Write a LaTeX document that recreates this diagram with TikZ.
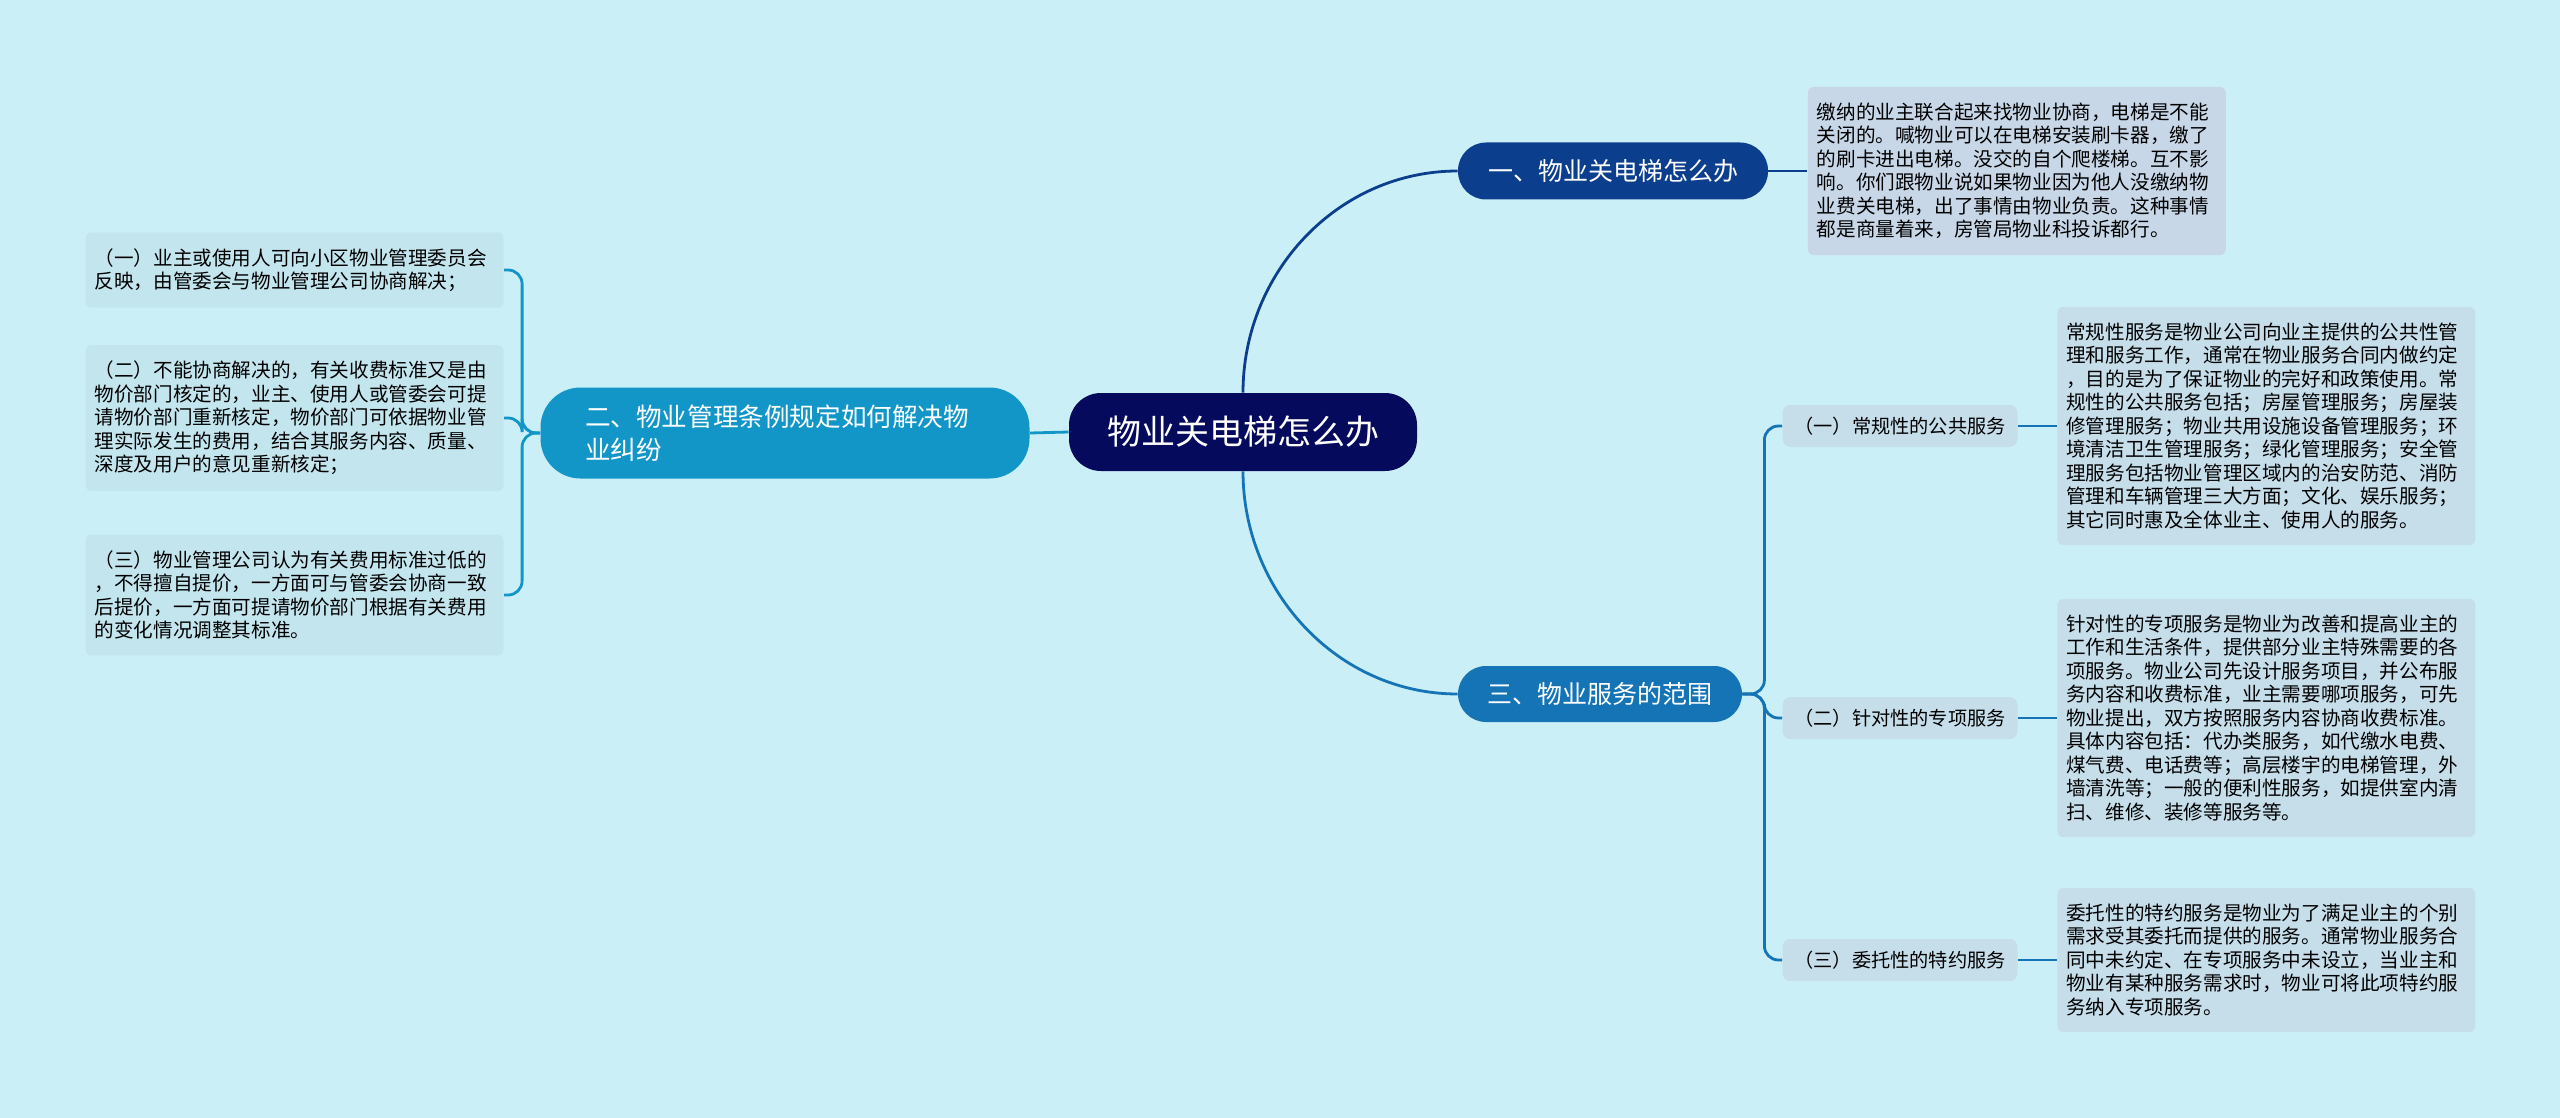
\documentclass[tikz,border=0pt]{standalone}
\usepackage{fontspec}
\setmainfont{Noto Sans CJK SC}
\usetikzlibrary{positioning}

\definecolor{bgcyan}{HTML}{CBEFF7}
\definecolor{rootblue}{HTML}{050A5C}
\definecolor{navyblue}{HTML}{0B3F8D}
\definecolor{tealblue}{HTML}{1296C8}
\definecolor{midblue}{HTML}{1474B5}
\definecolor{graybox}{HTML}{C8D7E8}
\definecolor{bluebox}{HTML}{C6DDEA}
\definecolor{cyanbox}{HTML}{C3E5EE}

\begin{document}
\begin{tikzpicture}[
		x=0.5pt, y=-0.5pt,
		topic/.style={
			text=white,
			rounded corners=14pt,
			align=center,
			font=\fontsize{12.5}{16.5}\selectfont
		},
		note/.style={
			fill=bluebox,
			rounded corners=3pt,
			align=left,
			text width=200pt,
			inner xsep=4.5pt,
			inner ysep=8pt,
			font=\fontsize{9.8}{11.75}\selectfont
		},
		sub/.style={
			fill=bluebox,
			rounded corners=4pt,
			minimum width=117.5pt,
			minimum height=21pt,
			font=\fontsize{9.6}{11}\selectfont
		},
		link/.style={line width=1.4pt}
		]
		
		\fill[bgcyan] (0,0) rectangle (2560,1118);
		\useasboundingbox (0,0) rectangle (2560,1118);
		
		\node[topic, fill=rootblue, rounded corners=16pt, minimum width=174pt, minimum height=39pt,
			font=\fontsize{17}{20}\selectfont] (root) at (1243,432) {物业关电梯怎么办};
		
		\node[topic, fill=navyblue, minimum width=155pt, minimum height=28.5pt] (one) at (1613,171)
		{一、物业关电梯怎么办};
		
		\node[topic, fill=tealblue, rounded corners=20pt, minimum width=244.5pt, minimum height=45.5pt,
			text width=200pt, align=left, font=\fontsize{12.8}{16.5}\selectfont] (two) at (785,433)
		{二、物业管理条例规定如何解决物\\业纠纷};
		
		\node[topic, fill=midblue, minimum width=142pt, minimum height=28pt] (three) at (1600,694)
		{三、物业服务的范围};
		
		\node[note, fill=graybox, right=19.5pt of one] (elevator)
		{缴纳的业主联合起来找物业协商，电梯是不能\\关闭的。喊物业可以在电梯安装刷卡器，缴了\\的刷卡进出电梯。没交的自个爬楼梯。互不影\\响。你们跟物业说如果物业因为他人没缴纳物\\业费关电梯，出了事情由物业负责。这种事情\\都是商量着来，房管局物业科投诉都行。};
		
		\node[note, fill=cyanbox, anchor=east] (rule1) at (504,270)
		{（一）业主或使用人可向小区物业管理委员会\\反映，由管委会与物业管理公司协商解决；};
		
		\node[note, fill=cyanbox, anchor=east] (rule2) at (504,418)
		{（二）不能协商解决的，有关收费标准又是由\\物价部门核定的，业主、使用人或管委会可提\\请物价部门重新核定，物价部门可依据物业管\\理实际发生的费用，结合其服务内容、质量、\\深度及用户的意见重新核定；};
		
		\node[note, fill=cyanbox, anchor=east] (rule3) at (504,595)
		{（三）物业管理公司认为有关费用标准过低的\\，不得擅自提价，一方面可与管委会协商一致\\后提价，一方面可提请物价部门根据有关费用\\的变化情况调整其标准。};
		
		\node[sub] (routine) at (1900,426) {（一）常规性的公共服务};
		
		\node[sub] (special) at (1900,718) {（二）针对性的专项服务};
		
		\node[sub] (entrust) at (1900,960) {（三）委托性的特约服务};
		
		\node[note, right=19.5pt of routine] (routinetxt)
		{常规性服务是物业公司向业主提供的公共性管\\理和服务工作，通常在物业服务合同内做约定\\，目的是为了保证物业的完好和政策使用。常\\规性的公共服务包括；房屋管理服务；房屋装\\修管理服务；物业共用设施设备管理服务；环\\境清洁卫生管理服务；绿化管理服务；安全管\\理服务包括物业管理区域内的治安防范、消防\\管理和车辆管理三大方面；文化、娱乐服务；\\其它同时惠及全体业主、使用人的服务。};
		
		\node[note, right=19.5pt of special] (specialtxt)
		{针对性的专项服务是物业为改善和提高业主的\\工作和生活条件，提供部分业主特殊需要的各\\项服务。物业公司先设计服务项目，并公布服\\务内容和收费标准，业主需要哪项服务，可先\\物业提出，双方按照服务内容协商收费标准。\\具体内容包括：代办类服务，如代缴水电费、\\煤气费、电话费等；高层楼宇的电梯管理，外\\墙清洗等；一般的便利性服务，如提供室内清\\扫、维修、装修等服务等。};
		
		\node[note, right=19.5pt of entrust] (entrusttxt)
		{委托性的特约服务是物业为了满足业主的个别\\需求受其委托而提供的服务。通常物业服务合\\同中未约定、在专项服务中未设立，当业主和\\物业有某种服务需求时，物业可将此项特约服\\务纳入专项服务。};
		
		\draw[link, navyblue] (root.north) .. controls +(0,-120) and +(-120,0) .. (one.west);
		\draw[link, midblue] (root.south) .. controls +(0,120) and +(-120,0) .. (three.west);
		\draw[link, tealblue] (root.west) -- (two.east);
		
		\draw[link, navyblue] (one.east) -- (elevator.west);
		
		\draw[link, tealblue, rounded corners=7pt] (two.west) -- ++(-18,0) |- (rule1.east);
		\draw[link, tealblue, rounded corners=7pt] (two.west) -- ++(-18,0) |- (rule2.east);
		\draw[link, tealblue, rounded corners=7pt] (two.west) -- ++(-18,0) |- (rule3.east);
		
		\draw[link, midblue, rounded corners=7pt] (three.east) -- ++(22,0) |- (routine.west);
		\draw[link, midblue, rounded corners=7pt] (three.east) -- ++(22,0) |- (special.west);
		\draw[link, midblue, rounded corners=7pt] (three.east) -- ++(22,0) |- (entrust.west);
		
		\draw[link, midblue] (routine.east) -- (routinetxt.west);
		\draw[link, midblue] (special.east) -- (specialtxt.west);
		\draw[link, midblue] (entrust.east) -- (entrusttxt.west);
		
	\end{tikzpicture}
\end{document}
